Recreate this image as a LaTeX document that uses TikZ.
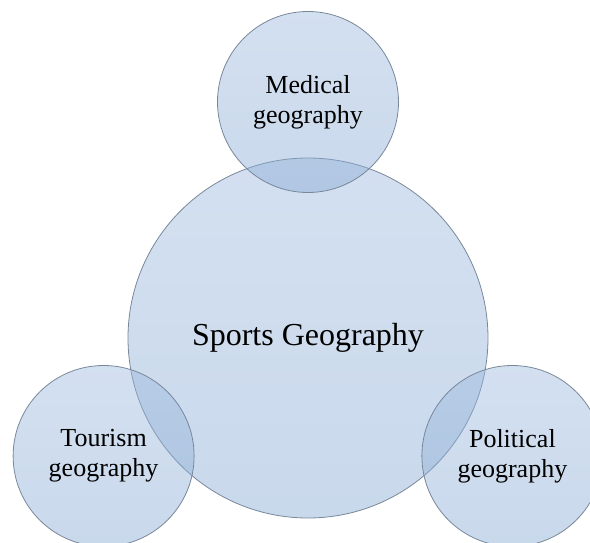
\documentclass[tikz,border=0pt]{standalone}
\usepackage{fontspec}
\setmainfont{Liberation Serif}
\usepackage{tikz}
\definecolor{bubtop}{RGB}{158,186,222}
\definecolor{bubbot}{RGB}{135,170,212}
\definecolor{bubline}{RGB}{120,136,154}
\tikzset{bubble/.style={circle,draw=bubline,line width=0.8pt,top color=bubtop,bottom color=bubbot,
    fill opacity=0.45,text opacity=1,inner sep=0pt,align=center}}

\begin{document}
\begin{tikzpicture}[main/.style={bubble,minimum size=360pt,font=\fontsize{32}{38}\selectfont},
    sub/.style={bubble,minimum size=181pt,font=\fontsize{26}{30}\selectfont}]
    \useasboundingbox (-308pt,-204pt) rectangle (282pt,338pt);
    \node[main] (sport) at (0,0) {Sports Geography};
    \node[sub] (med) at (90:236pt) {Medical\\geography};
    \node[sub] (tour) at (210:236pt) {Tourism\\geography};
    \node[sub] (pol) at (330:236pt) {Political\\geography};
  \end{tikzpicture}
\end{document}
